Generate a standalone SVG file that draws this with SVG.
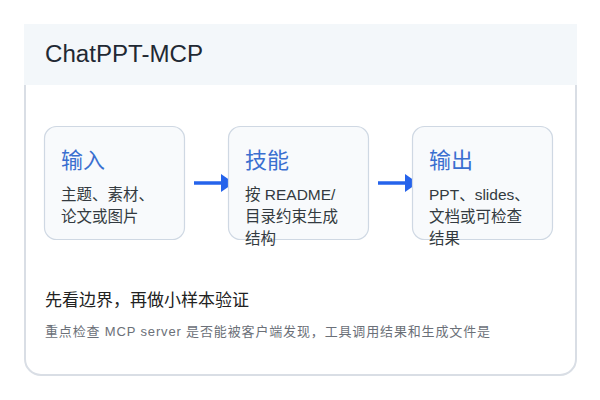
<svg xmlns="http://www.w3.org/2000/svg" width="600" height="400" viewBox="0 0 600 400">
<style>
.card{fill:#ffffff;stroke:#d9dee5;stroke-width:2}
.head{fill:#f3f7fa}
.title{font-family:"Liberation Sans","Noto Sans CJK SC",sans-serif;font-size:23px;fill:#1f2933}
.node{fill:#f8fafc;stroke:#cfd8e3;stroke-width:1.2}
.nt{font-family:"Noto Sans CJK SC","Noto Sans",sans-serif;font-size:22px;fill:#3a6fd0}
.nb{font-family:"Liberation Sans","Noto Sans CJK SC",sans-serif;font-size:15.5px;fill:#333a40}
.edge{stroke:#2563eb;stroke-width:3.5;fill:none}
.ah{fill:#2563eb}
.h2{font-family:"Noto Sans CJK SC",sans-serif;font-size:17px;fill:#222}
.sub{font-family:"Liberation Sans","Noto Sans CJK SC",sans-serif;font-size:13px;fill:#6b7078}
</style>
<rect class="card" x="25" y="30" width="551" height="345" rx="16"/>
<rect class="head" x="24" y="24" width="553" height="61"/>
<text class="title" x="45" y="62" textLength="158" lengthAdjust="spacingAndGlyphs">ChatPPT-MCP</text>
<g id="connectors">
<line class="edge" x1="194" y1="183" x2="223" y2="183"/>
<polygon class="ah" points="221,174 234,183 221,192"/>
<line class="edge" x1="378" y1="183" x2="407" y2="183"/>
<polygon class="ah" points="405,174 418,183 405,192"/>
</g>
<g id="node-input">
<rect class="node" x="44.5" y="126.5" width="140" height="113" rx="12"/>
<text class="nt" x="61" y="168">输入</text>
<text class="nb" x="61" y="200">主题、素材、</text>
<text class="nb" x="61" y="222">论文或图片</text>
</g>
<g id="node-skill">
<rect class="node" x="228.5" y="126.5" width="140" height="113" rx="12"/>
<text class="nt" x="245" y="168">技能</text>
<text class="nb" x="245" y="200">按 README/</text>
<text class="nb" x="245" y="222">目录约束生成</text>
<text class="nb" x="245" y="244">结构</text>
</g>
<g id="node-output">
<rect class="node" x="412.5" y="126.5" width="140" height="113" rx="12"/>
<text class="nt" x="429" y="168">输出</text>
<text class="nb" x="429" y="200">PPT、slides、</text>
<text class="nb" x="429" y="222">文档或可检查</text>
<text class="nb" x="429" y="244">结果</text>
</g>
<text class="h2" x="45" y="306">先看边界，再做小样本验证</text>
<text class="sub" x="45" y="336" textLength="445" lengthAdjust="spacing">重点检查 MCP server 是否能被客户端发现，工具调用结果和生成文件是</text>
</svg>
